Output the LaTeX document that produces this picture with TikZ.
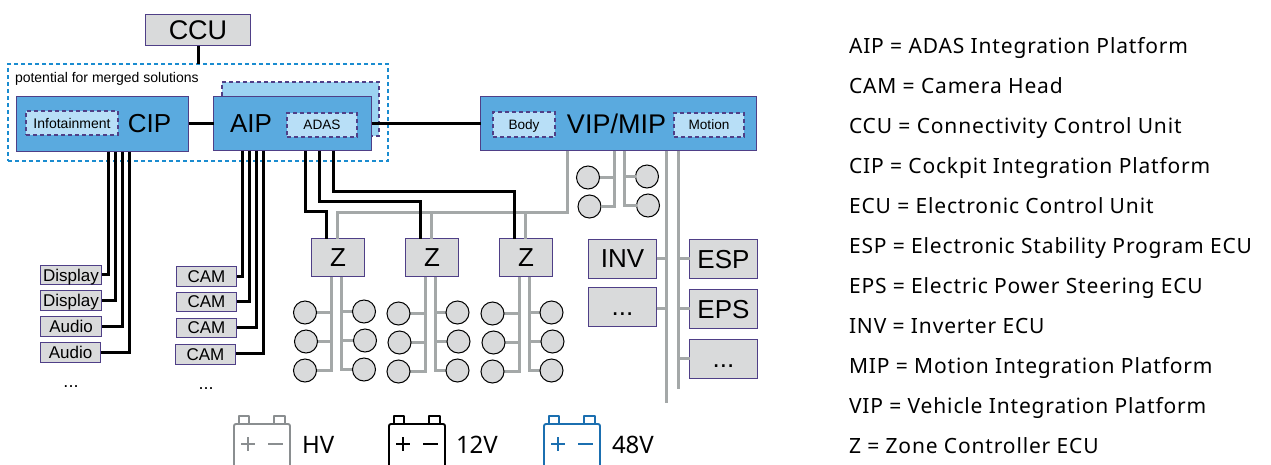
\documentclass[tikz,border=0pt]{standalone}
\usepackage{fontspec}
\setmainfont{Liberation Sans}
\newfontfamily\legfont[LetterSpace=4]{Noto Sans}
\newfontfamily\batfont{Noto Sans}
\definecolor{boxgray}{HTML}{D9DADB}
\definecolor{edge}{HTML}{4F3F87}
\definecolor{midblue}{HTML}{5AAADF}
\definecolor{paleblue}{HTML}{B8DFF7}
\definecolor{backblue}{HTML}{9CD3F2}
\definecolor{dashblue}{HTML}{1A8CD0}
\definecolor{wiregray}{HTML}{A4A8A8}
\definecolor{batgray}{HTML}{8A8E90}
\definecolor{batblue}{HTML}{1B6FB0}
\newcommand\fs[1]{\fontsize{#1}{#1}\selectfont}
\newcommand\lb[2]{\fs{#1}\vphantom{X}#2}
\tikzset{
  every node/.style={inner sep=0pt,outer sep=0pt},
  graybox/.style={draw=edge,fill=boxgray,line width=1.1pt,text=black,text depth=0pt},
  bluebox/.style={draw=edge,fill=midblue,line width=1.1pt,text=black,text depth=0pt},
  innerbox/.style={draw=edge,fill=paleblue,line width=1.1pt,dash pattern=on 4pt off 3pt,text=black,text depth=0pt},
  wireb/.style={draw=black,line width=2.9pt},
  wireg/.style={draw=wiregray,line width=2.9pt},
  dot/.style={circle,draw=black,fill=boxgray,line width=1pt,minimum size=23pt},
  legend/.style={anchor=base west,font=\legfont\fs{21}},
  batlabel/.style={anchor=base west,font=\batfont\fs{24}},
  bigtext/.style={text depth=0pt},
}
% \bx{style}{name}{x1}{y1}{x2}{y2}{text}
\newcommand\bx[7]{%
  \pgfmathsetmacro\wid{#5-#3}\pgfmathsetmacro\hgt{#6-#4}%
  \pgfmathsetmacro\cx{(#3+#5)/2}\pgfmathsetmacro\cy{(#4+#6)/2}%
  \node[#1,minimum width=\wid pt,minimum height=\hgt pt] (#2) at (\cx,\cy) {#7};}
% \batt{colour}{x of left side}{name}
\newcommand\batt[3]{%
  \begin{scope}[shift={(#2,0)},draw=#1,line width=1.9pt,line join=round]
    \draw[rounded corners=2pt] (0,470) -- (0,424) -- (56,424) -- (56,470);
    \draw (5,424) -- (5,416) -- (15,416) -- (15,424);
    \draw (40,424) -- (40,416) -- (51,416) -- (51,424);
    \draw (7,444) -- (21,444) (14,437) -- (14,451);
    \draw (34,444) -- (49,444);
  \end{scope}}
\begin{document}
\begin{tikzpicture}[x=1pt,y=-1pt]
\clip (0,0) rectangle (1271,464);
\fill[white] (0,0) rectangle (1271,464);

% merged-solution frame and the box behind AIP
\bx{draw=dashblue,line width=1.2pt,dash pattern=on 4pt off 3pt}{frame}{8}{64}{388}{161}{}
\node[anchor=base west,font=\fs{14}] (pot) at (15,82) {potential for merged solutions};
\bx{innerbox,fill=backblue}{back}{222}{82}{379}{136}{}

% main boxes
\bx{graybox}{ccu}{145.5}{14.5}{250.5}{45.5}{\lb{27}{CCU}}
\bx{bluebox}{cip}{16.5}{96.5}{188.5}{151.5}{}
\bx{bluebox}{aip}{213.5}{96.5}{371.5}{150.5}{}
\bx{bluebox}{vip}{480.5}{96.5}{756.5}{150.5}{}
\bx{innerbox}{info}{26}{111}{118}{135}{\lb{14}{Infotainment}}
\bx{innerbox}{adas}{287}{113}{357}{137}{\lb{13.6}{ADAS}}
\bx{innerbox}{body}{493}{112}{555}{137}{\lb{13.6}{Body}}
\bx{innerbox}{motion}{674}{113}{744}{137}{\lb{13.6}{Motion}}
\node[bigtext] (tcip) at (149.5,123.5) {\lb{26}{CIP}};
\node[bigtext] (taip) at (251,123.5) {\lb{26}{AIP}};
\node[bigtext] (tvip) at (616.5,124) {\lb{27}{VIP/MIP}};

% black backbone
\draw[wireb] (ccu.south -| 198.5,0) -- (frame.north -| 198.5,0);
\draw[wireb] (cip.east |- 0,123.5) -- (aip.west |- 0,123.5);
\draw[wireb] (aip.east |- 0,123.5) -- (vip.west |- 0,123.5);

% left-hand devices
\bx{graybox}{d1}{40.5}{265.5}{101.5}{284.5}{\lb{17}{Display}}
\bx{graybox}{d2}{40.5}{290.5}{101.5}{310.5}{\lb{17}{Display}}
\bx{graybox}{d3}{40.5}{316.5}{101.5}{336.5}{\lb{17}{Audio}}
\bx{graybox}{d4}{40.5}{342.5}{100.5}{362.5}{\lb{17}{Audio}}
\node[anchor=base,font=\fs{18}] (dd1) at (71,387.5) {...};
\bx{graybox}{c1}{176.5}{266.5}{236.5}{286.5}{\lb{17}{CAM}}
\bx{graybox}{c2}{176.5}{292.5}{236.5}{311.5}{\lb{17}{CAM}}
\bx{graybox}{c3}{176.5}{318.5}{236.5}{337.5}{\lb{17}{CAM}}
\bx{graybox}{c4}{175.5}{344.5}{235.5}{364.5}{\lb{17}{CAM}}
\node[anchor=base,font=\fs{18}] (dd2) at (206,389) {...};
\foreach \n/\lx/\ly in {d1/108.5/274.5,d2/115.5/300.5,d3/122.5/326.5,d4/129.5/352.5}
  \draw[wireb] (cip.south -| \lx,0) -- (\lx,\ly) -- (\n.east |- 0,\ly);
\foreach \n/\lx/\ly in {c1/242.5/276.5,c2/249.5/301.5,c3/256.5/327.5,c4/263.5/353.5}
  \draw[wireb] (aip.south -| \lx,0) -- (\lx,\ly) -- (\n.east |- 0,\ly);

% zone controllers
\bx{graybox}{z1}{311.5}{238.5}{364.5}{276.5}{\lb{26}{Z}}
\bx{graybox}{z2}{405.5}{238.5}{458.5}{276.5}{\lb{26}{Z}}
\bx{graybox}{z3}{499.5}{238.5}{552.5}{276.5}{\lb{26}{Z}}

% gray bus from VIP to zones
\draw[wireg] (vip.south -| 567.5,0) -- (567.5,212.5) -- (337.5,212.5) -- (z1.north -| 337.5,0);
\draw[wireg] (431.5,212.5) -- (z2.north -| 431.5,0);
\draw[wireg] (525.5,212.5) -- (z3.north -| 525.5,0);
% black links AIP to zones
\draw[wireb] (aip.south -| 305.5,0) -- (305.5,211.5) -- (326.5,211.5) -- (z1.north -| 326.5,0);
\draw[wireb] (aip.south -| 319.5,0) -- (319.5,201.5) -- (420.5,201.5) -- (z2.north -| 420.5,0);
\draw[wireb] (aip.south -| 333.5,0) -- (333.5,191.5) -- (514.5,191.5) -- (z3.north -| 514.5,0);

% zone loads
\foreach \z/\la/\lb/\o/\dy in {z1/331.5/341.5/0/0,z2/425.5/435.5/94/1,z3/519.5/529.5/188/1}{
  \pgfmathsetmacro\ya{312.5+\dy}\pgfmathsetmacro\yb{341.5+\dy}\pgfmathsetmacro\yc{370.5+\dy}
  \pgfmathsetmacro\xl{305+\o-.5*\dy}\pgfmathsetmacro\xr{364+\o-.5*\dy}
  \draw[wireg] (\z.south -| \la,0) -- (\la,\yc) -- (\xl,\yc);
  \draw[wireg] (\la,\ya) -- (\xl,\ya);
  \draw[wireg] (\la,\yb) -- (\xl,\yb);
  \draw[wireg] (\z.south -| \lb,0) -- (\lb,\yc-1) -- (\xr,\yc-1);
  \draw[wireg] (\lb,\ya-1) -- (\xr,\ya-1);
  \draw[wireg] (\lb,\yb-1) -- (\xr,\yb-1);
  \node[dot] (\z la) at (\xl,\ya) {};
  \node[dot] (\z lb) at (\xl+1,\yb) {};
  \node[dot] (\z lc) at (\xl,\yc) {};
  \node[dot] (\z ra) at (\xr,\ya-1) {};
  \node[dot] (\z rb) at (\xr+1,\yb-1) {};
  \node[dot] (\z rc) at (\xr,\yc-1) {};
}

% VIP direct loads
\node[dot] (va) at (588,177.5) {};
\node[dot] (vb) at (589.5,206.5) {};
\node[dot] (vc) at (647,176.5) {};
\node[dot] (vd) at (648,205.5) {};
\draw[wireg] (vip.south -| 614.5,0) -- (614.5,206.5) -- (vb.east);
\draw[wireg] (614.5,177.5) -- (va.east);
\draw[wireg] (vip.south -| 624.5,0) -- (624.5,205.5) -- (vd.west);
\draw[wireg] (624.5,176.5) -- (vc.west);

% right-hand ECUs
\bx{graybox}{inv}{588.5}{239.5}{656.5}{278.5}{\lb{26}{INV}}
\bx{graybox}{more1}{588.5}{287.5}{656.5}{326.5}{\lb{26}{...}}
\bx{graybox}{esp}{689.5}{239.5}{757.5}{278.5}{\lb{26}{ESP}}
\bx{graybox}{eps}{689.5}{289.5}{757.5}{328.5}{\lb{26}{EPS}}
\bx{graybox}{more2}{689.5}{339.5}{757.5}{378.5}{\lb{26}{...}}
\coordinate (busa) at (666.5,403);
\coordinate (busb) at (678.5,389);
\draw[wireg] (vip.south -| busa) -- (busa);
\draw[wireg] (vip.south -| busb) -- (busb);
\draw[wireg] (inv.east |- 0,258.5) -- (busa |- 0,258.5);
\draw[wireg] (more1.east |- 0,308.5) -- (busa |- 0,308.5);
\draw[wireg] (esp.west |- 0,258.5) -- (busb |- 0,258.5);
\draw[wireg] (eps.west |- 0,308.5) -- (busb |- 0,308.5);
\draw[wireg] (more2.west |- 0,358.5) -- (busb |- 0,358.5);

% batteries
\batt{batgray}{234}{hv}
\batt{black}{389}{lv}
\batt{batblue}{544}{mv}
\node[batlabel] (thv) at (302,453.5) {HV};
\node[batlabel] (t12) at (456,453.5) {12V};
\node[batlabel] (t48) at (612,453.5) {48V};

% legend
\foreach \i/\t in {0/AIP = ADAS Integration Platform,1/CAM = Camera Head,2/CCU = Connectivity Control Unit,3/CIP = Cockpit Integration Platform,4/ECU = Electronic Control Unit,5/ESP = Electronic Stability Program ECU,6/EPS = Electric Power Steering ECU,7/INV = Inverter ECU,8/MIP = Motion Integration Platform,9/VIP = Vehicle Integration Platform,10/Z = Zone Controller ECU}
  \node[legend] (leg\i) at (849,53+40*\i) {\t};
\end{tikzpicture}
\end{document}
